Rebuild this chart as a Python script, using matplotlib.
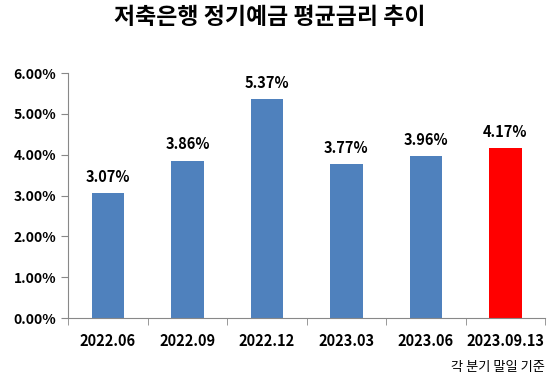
import numpy as np
import matplotlib
matplotlib.use("Agg")
import matplotlib.pyplot as plt

plt.rcParams['font.family'] = ['Noto Sans CJK KR', 'DejaVu Sans']

categories = ['2022.06', '2022.09', '2022.12', '2023.03', '2023.06', '2023.09.13']
rates = [3.07, 3.86, 5.37, 3.77, 3.96, 4.17]
bar_colors = ['#4f81bd'] * 5 + ['#ff0000']

fig = plt.figure(figsize=(5.5, 3.81), dpi=100)
ax = fig.add_axes([0.124, 0.165, 0.867, 0.643])

x = np.arange(len(categories))
ax.bar(x, rates, width=0.41, color=bar_colors)
for xi, v in zip(x, rates):
    ax.text(xi, v + 0.2, f'{v:.2f}%', ha='center', va='bottom', fontsize=10.5, fontweight='bold')

ax.set_xlim(-0.5, len(categories) - 0.5)
ax.set_ylim(0, 6)
ax.set_yticks(np.arange(0, 7, 1))
ax.set_yticklabels([f'{t:.2f}%' for t in range(7)], fontsize=10, fontweight='bold')
ax.set_xticks(x)
ax.set_xticklabels(categories, fontsize=10.5, fontweight='bold')
ax.tick_params(axis='x', length=0, pad=11)
ax.set_xticks(np.arange(-0.5, len(categories)), minor=True)
ax.tick_params(axis='x', which='minor', length=5, color='#888888')
ax.tick_params(axis='y', length=5, color='#888888')

for s in ['top', 'right']:
    ax.spines[s].set_visible(False)
ax.spines['left'].set_color('#888888')
ax.spines['bottom'].set_color('#888888')

fig.text(0.49, 0.955, '저축은행 정기예금 평균금리 추이', ha='center', va='center',
         fontsize=16.5, fontweight='bold')
fig.text(0.99, 0.035, '각 분기 말일 기준', ha='right', va='center', fontsize=9.5,
         fontweight='medium')

fig.savefig('out.png', dpi=100)
